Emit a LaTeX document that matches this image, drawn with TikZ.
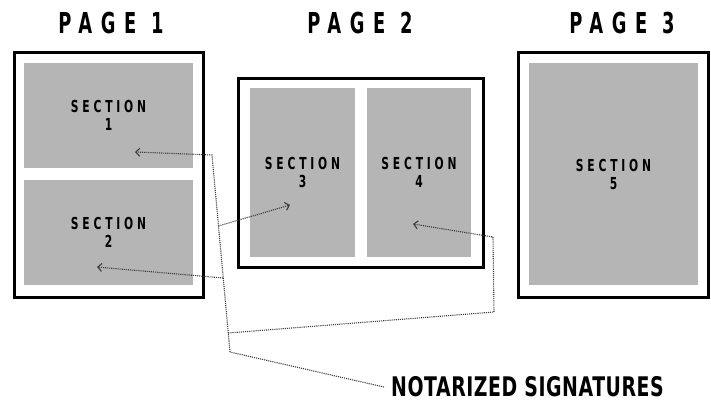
\documentclass[tikz,border=0pt]{standalone}
\usepackage{fontspec}
\setmainfont{DejaVu Sans}
\newfontfamily\titlefont{DejaVu Sans}[FakeStretch=0.62,LetterSpace=30]
\newfontfamily\secfont{DejaVu Sans}[FakeStretch=0.65,LetterSpace=23]
\newfontfamily\notefont{DejaVu Sans}[FakeStretch=0.7,LetterSpace=2]
\usetikzlibrary{arrows.meta}
\definecolor{secgray}{RGB}{181,181,181}
\definecolor{dotgray}{RGB}{60,60,60}
\begin{document}
\begin{tikzpicture}[x=1pt,y=-1pt,
  pagebox/.style={draw=black,line width=3pt,rectangle,inner sep=0pt},
  secbox/.style={fill=secgray,rectangle,inner sep=0pt,align=center,
    font=\secfont\bfseries\fontsize{16.5}{18}\selectfont},
  titletext/.style={font=\titlefont\bfseries\fontsize{28.8}{30}\selectfont,inner sep=0pt,anchor=base},
  conn/.style={draw=dotgray,line width=1.1pt,densely dotted},
  tip/.style={-{Straight Barb[length=4pt,width=8pt]}}]
\useasboundingbox (0,0) rectangle (711,402);
% pages
\node[pagebox,minimum width=189pt,minimum height=245pt] (p1) at (108.5,174.5) {};
\node[pagebox,minimum width=245pt,minimum height=189pt] (p2) at (360.5,172.5) {};
\node[pagebox,minimum width=190pt,minimum height=245pt] (p3) at (613,174.5) {};
% titles
\node[titletext] (tt1) at (111,33) {PAGE 1};
\node[titletext] (tt2) at (360,33) {PAGE 2};
\node[titletext] (tt3) at (622,33) {PAGE 3};
% sections
\node[secbox,minimum width=169pt,minimum height=105pt] (s1) at (108.5,115.5) {SECTION\\1};
\node[secbox,minimum width=169pt,minimum height=105pt] (s2) at (108.5,232.5) {SECTION\\2};
\node[secbox,minimum width=105pt,minimum height=169pt] (s3) at (302.5,172.5) {SECTION\\3};
\node[secbox,minimum width=104pt,minimum height=169pt] (s4) at (419,172.5) {SECTION\\4};
\node[secbox,minimum width=169pt,minimum height=222pt] (s5) at (613.5,174) {SECTION\\5};
% label
\node[font=\notefont\bfseries\fontsize{27}{30}\selectfont,anchor=base west,inner sep=0pt,text depth=0pt] (note) at (391,396) {NOTARIZED SIGNATURES};
% connector points
\coordinate (t1) at (135,152);
\coordinate (t2) at (97,267);
\coordinate (t3) at (290,205);
\coordinate (t4) at (413,224);
\coordinate (j1) at (212,155);
\coordinate (j3) at (218.4,226);
\coordinate (j2) at (223.2,278);
\coordinate (j4) at (228.3,333);
\coordinate (j5) at (230,352);
\coordinate (k1) at (494,312);
\coordinate (k2) at (493,237);
\coordinate (n0) at (384,387);
% connectors
\draw[conn] (n0) -- (j5);
\draw[conn,tip] (j5) -- (j1) -- (t1);
\draw[conn,tip] (j3) -- (t3);
\draw[conn,tip] (j2) -- (t2);
\draw[conn,tip] (j4) -- (k1) -- (k2) -- (t4);
\end{tikzpicture}
\end{document}
